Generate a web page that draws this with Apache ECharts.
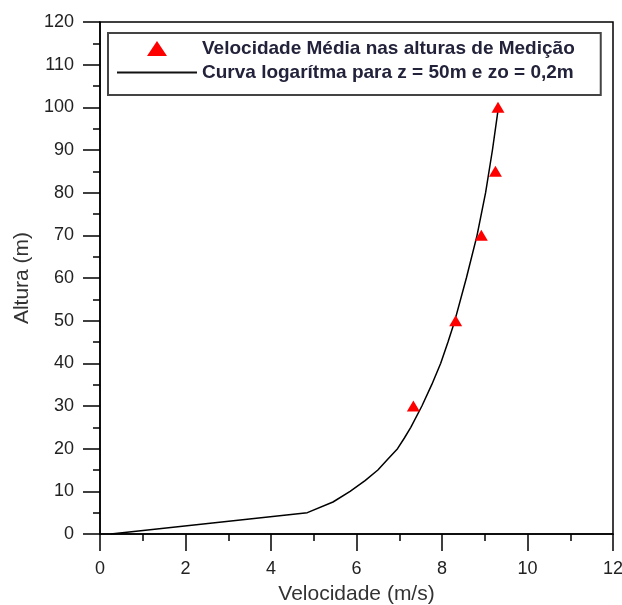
<!DOCTYPE html>
<html>
<head>
<meta charset="utf-8">
<script src="https://cdn.jsdelivr.net/npm/echarts@6/dist/echarts.min.js"></script>
<style>html,body{margin:0;padding:0;background:#fff}#c{width:622px;height:605px}</style>
</head>
<body>
<div id="c"></div>
<script>
// Measured mean velocities (triangles)
const measVel = [7.33, 8.32, 8.92, 9.25, 9.31];
const measHeight = [30, 50, 70, 85, 100];
// Logarithmic profile curve
const curveHeight = [0, 5, 7.5, 10, 12.5, 15, 17.5, 20, 22.5, 25, 30, 35, 40, 45, 50, 60, 70, 80, 90, 100];
const curveVel = [0.25, 4.85, 5.45, 5.85, 6.2, 6.5, 6.73, 6.96, 7.12, 7.27, 7.53, 7.76, 7.97, 8.14, 8.3, 8.57, 8.82, 9.02, 9.18, 9.32];
const xTicks = [0, 2, 4, 6, 8, 10, 12];
const yTicks = [0, 10, 20, 30, 40, 50, 60, 70, 80, 90, 100, 110, 120];
const legendNames = ['Velocidade Média nas alturas de Medição', 'Curva logarítma para z = 50m e zo = 0,2m'];

const FONT = 'Liberation Sans, Arial, sans-serif';
const chart = echarts.init(document.getElementById('c'), null, {renderer: 'canvas'});
const axisCommon = {
  axisLine: {show: true, onZero: false, lineStyle: {color: '#000', width: 1.5}},
  axisTick: {show: true, inside: false, length: 17, lineStyle: {color: '#000', width: 1.5}},
  minorTick: {show: true, splitNumber: 2, length: 7, lineStyle: {color: '#000', width: 1.5}},
  splitLine: {show: false},
  minorSplitLine: {show: false},
  nameTextStyle: {fontFamily: FONT, fontSize: 21, color: '#333'},
  axisLabel: {fontFamily: FONT, fontSize: 18, color: '#222', margin: 26}
};
// legend icons: bounding box 80x16 fixed via moveTo anchors
const triIcon = 'path://M0,0 M80,16 M40,0.5 L50,15.5 L30,15.5 Z';
const lineIcon = 'path://M0,0 M80,16 M0,7 L80,7 L80,9 L0,9 Z';
chart.setOption({
  animation: false,
  backgroundColor: '#fff',
  grid: {left: 100, right: 9, top: 22, bottom: 71, show: true, borderColor: '#000', borderWidth: 1.5,
         containLabel: false, outerBoundsMode: 'none'},
  legend: {
    orient: 'vertical', left: 108, top: 33,
    padding: [6, 26, 13, 9],
    itemGap: 5, itemWidth: 80, itemHeight: 16, itemTextGap: 15,
    borderColor: '#444', borderWidth: 2,
    textStyle: {fontFamily: FONT, fontSize: 19, fontWeight: 'bold', color: '#22223a'},
    data: [
      {name: legendNames[0], icon: triIcon, itemStyle: {color: '#ff0000'}},
      {name: legendNames[1], icon: lineIcon, itemStyle: {color: '#111'}}
    ]
  },
  xAxis: Object.assign({}, axisCommon, {
    type: 'value', min: xTicks[0], max: xTicks[xTicks.length - 1], interval: 2,
    name: 'Velocidade (m/s)', nameLocation: 'middle', nameGap: 50
  }),
  yAxis: Object.assign({}, axisCommon, {
    type: 'value', min: yTicks[0], max: yTicks[yTicks.length - 1], interval: 10,
    name: 'Altura (m)', nameLocation: 'middle', nameGap: 67
  }),
  series: [
    {
      name: legendNames[0], type: 'scatter', symbol: 'triangle', symbolSize: [13, 11],
      itemStyle: {color: '#ff0000', opacity: 1},
      data: measVel.map((v, i) => [v, measHeight[i]]), z: 3
    },
    {
      name: legendNames[1], type: 'line', showSymbol: false, symbol: 'none',
      lineStyle: {color: '#000', width: 1.5}, itemStyle: {color: '#000'},
      data: curveVel.map((v, i) => [v, curveHeight[i]]), z: 2
    }
  ]
});
</script>
</body>
</html>
